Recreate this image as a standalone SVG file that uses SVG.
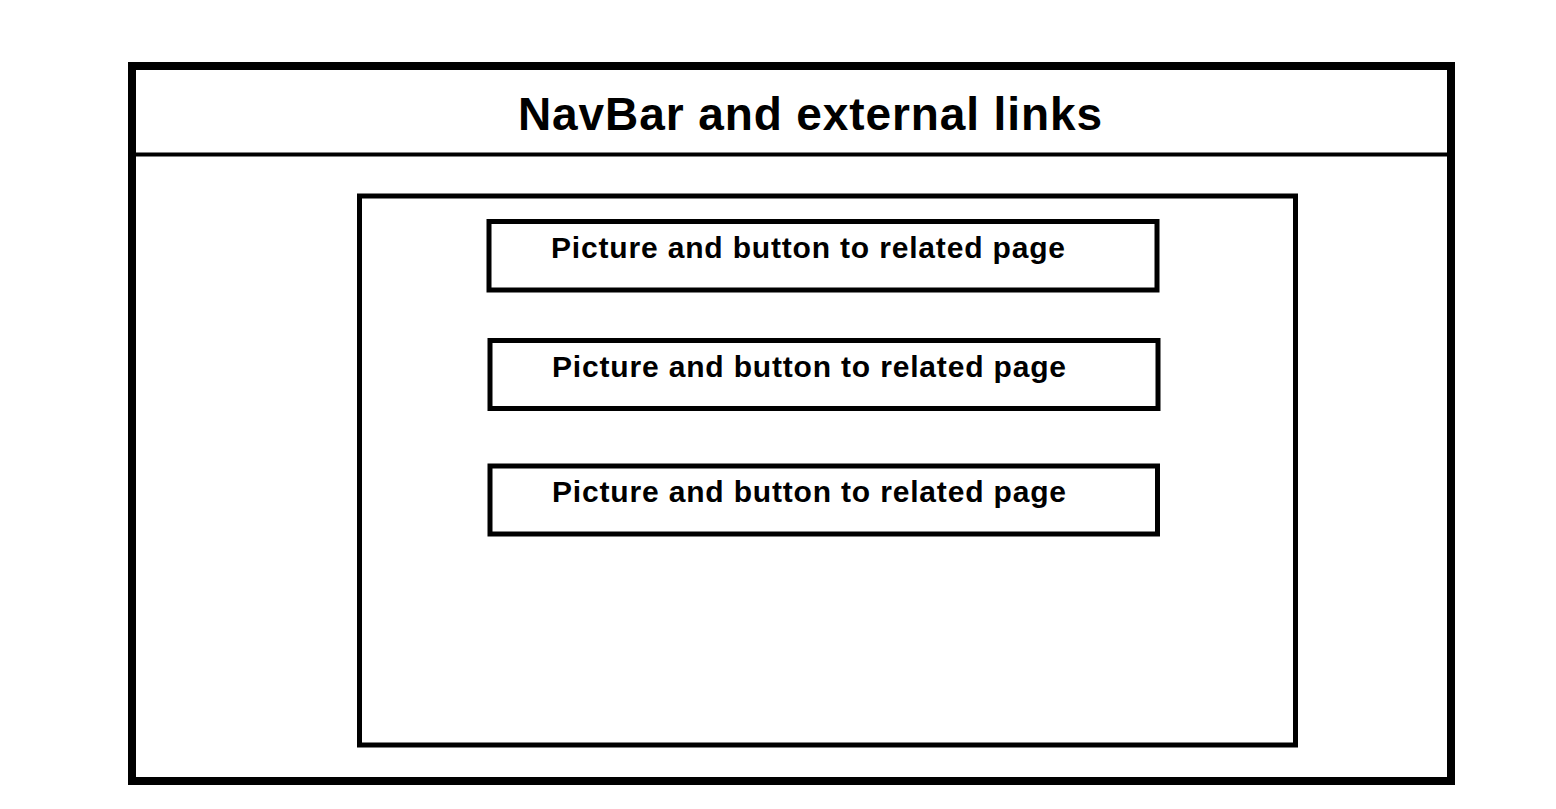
<svg xmlns="http://www.w3.org/2000/svg" width="1556" height="809" viewBox="0 0 1556 809">
<style>
.frame{fill:none;stroke:#000}
.t{font-family:"Liberation Sans",Arial,sans-serif;font-weight:bold;fill:#000}
</style>
<rect width="1556" height="809" fill="#fff"/>
<g id="page">
<rect class="frame" x="132" y="66" width="1319" height="715" stroke-width="8"/>
<line x1="132" y1="154.5" x2="1451" y2="154.5" stroke="#000" stroke-width="4"/>
<text class="t" x="518" y="130" font-size="46" textLength="584" lengthAdjust="spacing">NavBar and external links</text>
</g>
<g id="content">
<rect class="frame" x="359.5" y="196" width="936" height="549" stroke-width="5"/>
</g>
<g id="box1">
<rect class="frame" x="489" y="221.5" width="668" height="68.5" stroke-width="5"/>
<text class="t" x="551" y="257.5" font-size="30" textLength="514" lengthAdjust="spacing">Picture and button to related page</text>
</g>
<g id="box2">
<rect class="frame" x="490" y="340.5" width="668" height="68" stroke-width="5"/>
<text class="t" x="552" y="376.5" font-size="30" textLength="514" lengthAdjust="spacing">Picture and button to related page</text>
</g>
<g id="box3">
<rect class="frame" x="490" y="466" width="667.5" height="68" stroke-width="5"/>
<text class="t" x="552" y="502" font-size="30" textLength="514" lengthAdjust="spacing">Picture and button to related page</text>
</g>
<g id="connectors"/>
</svg>
